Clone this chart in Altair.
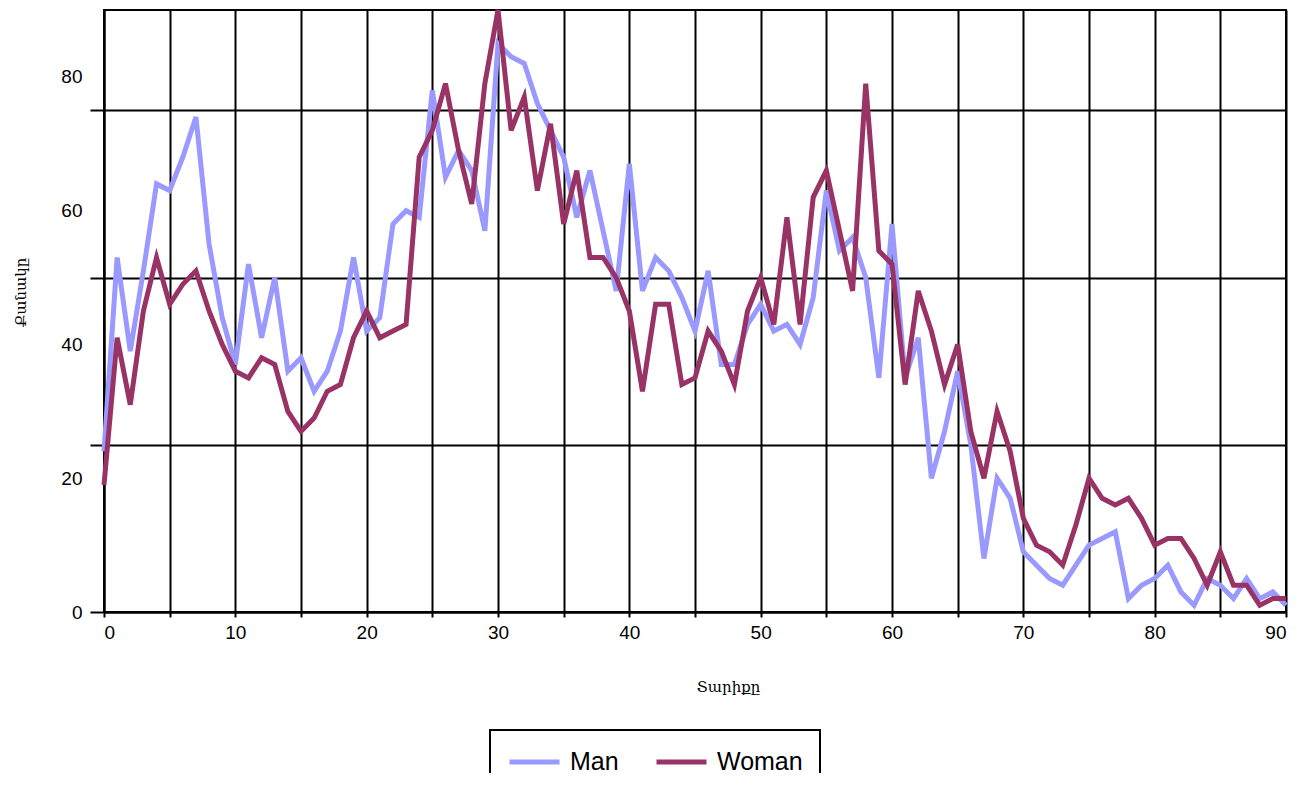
import altair as alt
import pandas as pd

ages = list(range(0, 91))
man = [24, 53, 39, 51, 64, 63, 68, 74, 55, 44,
       37, 52, 41, 50, 36, 38, 33, 36, 42, 53,
       42, 44, 58, 60, 59, 78, 65, 69, 66, 57,
       85, 83, 82, 76, 72, 68, 59, 66, 57, 48,
       67, 48, 53, 51, 47, 42, 51, 37, 37, 43,
       46, 42, 43, 40, 47, 63, 54, 56, 50, 35,
       58, 35, 41, 20, 27, 36, 25, 8, 20, 17,
       9, 7, 5, 4, 7, 10, 11, 12, 2, 4,
       5, 7, 3, 1, 5, 4, 2, 5, 2, 3,
       1]
woman = [19, 41, 31, 45, 53, 46, 49, 51, 45, 40,
         36, 35, 38, 37, 30, 27, 29, 33, 34, 41,
         45, 41, 42, 43, 68, 72, 79, 69, 61, 79,
         90, 72, 77, 63, 73, 58, 66, 53, 53, 50,
         45, 33, 46, 46, 34, 35, 42, 39, 34, 45,
         50, 43, 59, 43, 62, 66, 57, 48, 79, 54,
         52, 34, 48, 42, 34, 40, 27, 20, 30, 24,
         14, 10, 9, 7, 13, 20, 17, 16, 17, 14,
         10, 11, 11, 8, 4, 9, 4, 4, 1, 2,
         2]
series = ["Man", "Woman"]
colors = ["#9999FF", "#993366"]
x_ticks = list(range(0, 91, 5))
y_ticks = [0, 20, 25, 40, 50, 60, 75, 80]

df = pd.DataFrame({
    "age": ages * 2,
    "count": man + woman,
    "sex": ["Man"] * len(ages) + ["Woman"] * len(ages),
})

label_font = "Liberation Sans"
title_font = "DejaVu Serif"

chart = alt.Chart(df).mark_line(strokeWidth=5, strokeJoin="miter").encode(
    x=alt.X("age:Q",
            scale=alt.Scale(domain=[0, 90], nice=False, zero=False),
            axis=alt.Axis(values=x_ticks, title="Տարիքը",
                          labelExpr="datum.value % 10 == 0 ? datum.label : ''",
                          grid=True, gridColor="black", gridWidth=2, gridOpacity=1,
                          tickColor="black", tickWidth=2, tickSize=5,
                          domainColor="black", domainWidth=2,
                          labelFont=label_font, labelFontSize=19, labelColor="black",
                          labelPadding=6,
                          titleFont=title_font, titleFontSize=15, titleFontWeight="normal",
                          titleColor="black", titleX=624, titleY=74,
                          titleAlign="center", titleBaseline="middle")),
    y=alt.Y("count:Q",
            scale=alt.Scale(domain=[0, 90], nice=False),
            axis=alt.Axis(values=y_ticks, title="Քանակը",
                          labelExpr="datum.value % 20 == 0 ? datum.label : ''",
                          grid=True, gridColor="black", gridWidth=2,
                          gridOpacity={"condition": {"test": "datum.value % 25 == 0", "value": 1}, "value": 0},
                          tickColor="black", tickWidth=2, tickSize=14,
                          tickOpacity={"condition": {"test": "datum.value % 25 == 0", "value": 1}, "value": 0},
                          domainColor="black", domainWidth=2,
                          labelFont=label_font, labelFontSize=19, labelColor="black",
                          labelPadding=8,
                          titleFont=title_font, titleFontSize=15, titleFontWeight="normal",
                          titleColor="black", titleX=-84, titleY=282,
                          titleAlign="center", titleBaseline="middle")),
    color=alt.Color("sex:N",
                    scale=alt.Scale(domain=series, range=colors),
                    legend=alt.Legend(title=None, orient="none", legendX=386, legendY=720,
                                      direction="horizontal", symbolType="stroke",
                                      symbolSize=2500, symbolStrokeWidth=5,
                                      clipHeight=30,
                                      labelFont=label_font, labelFontSize=25,
                                      labelColor="black", labelOffset=8,
                                      columnPadding=35, padding=17,
                                      strokeColor="black")),
).properties(
    width=1182,
    height=602,
    autosize="none",
    padding={"left": 96, "top": 2, "right": 4, "bottom": 161},
).configure_view(
    stroke="black", strokeWidth=2
).configure_legend(
    strokeWidth=2
)

chart.save("out.html", embed_options={"renderer": "svg", "actions": False})
